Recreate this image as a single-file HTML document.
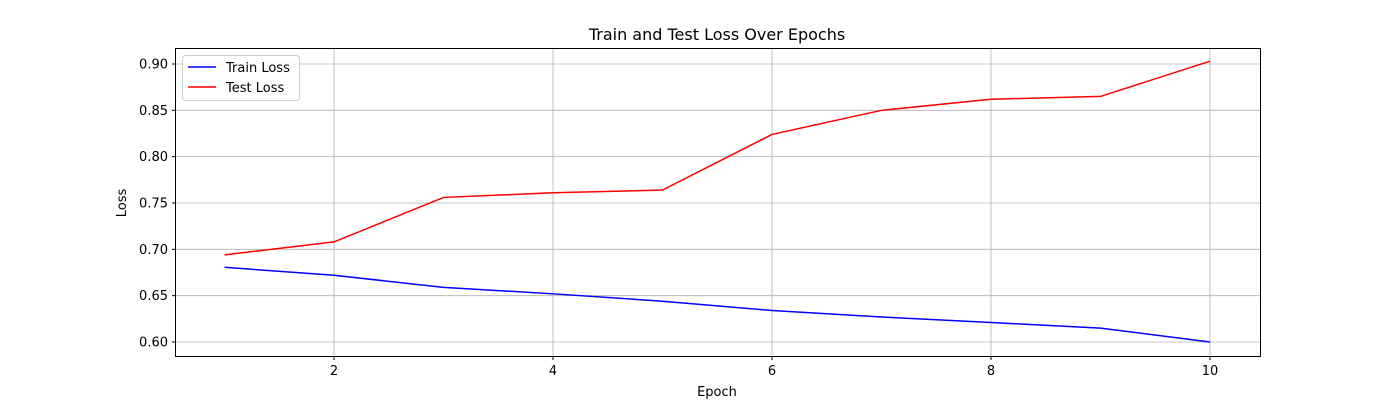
<!DOCTYPE html>
<html><head><meta charset="utf-8"><style>
body{margin:0;background:#fff;}
svg text{font-family:"DejaVu Sans","Liberation Sans",sans-serif;fill:#000;}
</style></head><body>
<svg id="chart" width="1400" height="400" xmlns="http://www.w3.org/2000/svg">
<rect width="1400" height="400" fill="#fff"/>
<g id="grid"></g>
<g id="series"></g>
<rect x="175.5" y="48.5" width="1085" height="308" fill="none" stroke="#000" stroke-width="1"/>
<g id="axes"></g>
<text x="717" y="40" font-size="16" text-anchor="middle">Train and Test Loss Over Epochs</text>
<text x="717" y="396" font-size="13" text-anchor="middle">Epoch</text>
<text x="126" y="203" font-size="13" text-anchor="middle" transform="rotate(-90 126 203)">Loss</text>
<g>
<rect x="182.5" y="55.5" width="117" height="45" rx="3" fill="#fff" fill-opacity="0.8" stroke="#ccc"/>
<line x1="188" y1="67" x2="216" y2="67" stroke="#0000ff" stroke-width="1.5"/>
<text x="226" y="72" font-size="13">Train Loss</text>
<line x1="188" y1="87" x2="216" y2="87" stroke="#ff0000" stroke-width="1.5"/>
<text x="226" y="92" font-size="13">Test Loss</text>
</g>
</svg>
<script>
const epochs=[1,2,3,4,5,6,7,8,9,10];
const trainLoss=[0.6806,0.672,0.659,0.652,0.644,0.634,0.627,0.621,0.615,0.600];
const testLoss=[0.694,0.708,0.756,0.761,0.764,0.824,0.850,0.862,0.865,0.903];
const xTicks=[2,4,6,8,10];
const yTicks=[0.60,0.65,0.70,0.75,0.80,0.85,0.90];
const NS="http://www.w3.org/2000/svg";
function xs(v){return 224.5+(v-1)*109.5;}
function ys(v){return 342-(v-0.6)*926.7;}
const grid=document.getElementById('grid'),axes=document.getElementById('axes'),series=document.getElementById('series');
function mk(t,a,p){const e=document.createElementNS(NS,t);for(const k in a)e.setAttribute(k,a[k]);p.appendChild(e);return e;}
xTicks.forEach(v=>{const x=xs(v);
const g=mk('line',{x1:x,x2:x,y1:48.5,y2:356.5,stroke:'#b0b0b0','stroke-width':0.8},grid);


const t=mk('line',{x1:x,x2:x,y1:356.5,y2:360,stroke:'#000'},axes);


const l=mk('text',{x:x,y:375,'font-size':13,'text-anchor':'middle'},axes);l.textContent=v;


});
yTicks.forEach(v=>{const y=ys(v);
const g=mk('line',{x1:175.5,x2:1260.5,y1:y,y2:y,stroke:'#b0b0b0','stroke-width':0.8},grid);


const t=mk('line',{x1:172,x2:175.5,y1:y,y2:y,stroke:'#000'},axes);


const l=mk('text',{x:168,y:y+4.5,'font-size':13,'text-anchor':'end'},axes);l.textContent=v.toFixed(2);


});
function line(vals,color,name){
const p=mk('polyline',{points:epochs.map((e,i)=>xs(e)+','+ys(vals[i])).join(' '),fill:'none',stroke:color,'stroke-width':1.5},series);


}
line(trainLoss,'#0000ff','train-loss-line');
line(testLoss,'#ff0000','test-loss-line');
</script>
</body></html>
